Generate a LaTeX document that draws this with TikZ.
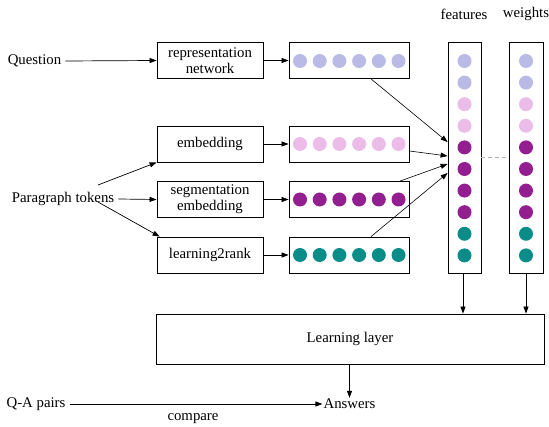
\documentclass[tikz,border=0pt]{standalone}
\usepackage{fontspec}
\setmainfont{Liberation Serif}
\usetikzlibrary{arrows.meta}
\definecolor{lav}{RGB}{186,186,230}
\definecolor{pnk}{RGB}{236,188,232}
\definecolor{prp}{RGB}{147,30,144}
\definecolor{tea}{RGB}{10,140,136}
\tikzset{
  box/.style={draw=black,line width=0.8pt,rectangle,inner sep=0pt,minimum width=106pt,minimum height=36pt,align=center,font=\fontsize{14.8}{16}\selectfont},
  dotbox/.style={draw=black,line width=0.8pt,rectangle,inner sep=0pt,minimum width=120pt,minimum height=36pt},
  col/.style={draw=black,line width=0.8pt,rectangle,inner sep=0pt,minimum width=33pt,minimum height=231pt},
  lbl/.style={inner sep=1pt,font=\fontsize{14.8}{16}\selectfont},
  arr/.style={-{Triangle[length=7pt,width=5pt]},line width=0.7pt},
  dot/.style={circle,fill=#1,inner sep=0pt,minimum size=14pt}
}
\begin{document}
\begin{tikzpicture}[x=1pt,y=-1pt]
\useasboundingbox (0,0) rectangle (549,427);
% text boxes
\node[box] (rep) at (210,60.5) {representation\\network};
\node[box] (emb) at (210,144) {embedding};
\node[box] (seg) at (210,199.5) {segmentation\\embedding};
\node[box] (l2r) at (210,255) {learning2rank};
% dot boxes
\node[dotbox] (d1) at (349,60.5) {};
\node[dotbox] (d2) at (349,144) {};
\node[dotbox] (d3) at (349,199.5) {};
\node[dotbox] (d4) at (349,255) {};
\foreach \i in {0,...,5}{
  \node[dot=lav] at (300+19.7*\i,61) {};
  \node[dot=pnk] at (300+19.7*\i,144) {};
  \node[dot=prp] at (300+19.7*\i,199.5) {};
  \node[dot=tea] at (300+19.7*\i,255) {};
}
% columns
\node[col] (feat) at (464.5,157.5) {};
\node[col,minimum width=34pt] (wt) at (526,157.5) {};
\foreach \c [count=\k from 0] in {lav,lav,pnk,pnk,prp,prp,prp,prp,tea,tea}{
  \node[dot=\c] at (464.5,61+21.6*\k) {};
  \node[dot=\c] at (526,61+21.6*\k) {};
}
\node[lbl] (flab) at (464,14) {features};
\node[lbl] (wlab) at (526,14) {weights};
\draw[gray!60,dashed,line width=1pt,dash pattern=on 4pt off 3pt] (feat.east |- 0,158) -- (wt.west |- 0,158);
% learning layer
\node[draw=black,line width=0.8pt,rectangle,inner sep=0pt,minimum width=388pt,minimum height=50pt,font=\fontsize{14.8}{16}\selectfont] (ll) at (350,339) {Learning layer};
% left labels
\node[lbl] (q) at (34.5,61) {Question};
\node[lbl] (pt) at (63,199) {Paragraph tokens};
\node[lbl] (qa) at (36,404) {Q-A pairs};
\node[lbl] (ans) at (349.5,404) {Answers};
\node[lbl] (cmp) at (193,419) {compare};
% arrows
\draw[arr] (q.east) ++(3,0) -- (rep.west);
\coordinate (p1) at (98,185);
\coordinate (p2) at (98,202);
\draw[arr] (p1) -- (emb.south west);
\draw[arr] (pt.east) ++(3,0) -- (seg.west);
\draw[arr] (p2) -- ([xshift=3pt]l2r.north west);
\draw[arr] (rep.east) -- (d1.west);
\draw[arr] (emb.east) -- (d2.west);
\draw[arr] (seg.east) -- (d3.west);
\draw[arr] (l2r.east) -- (d4.west);
\draw[arr,line width=0.6pt] ([xshift=22pt]d1.south) -- (feat.west |- 0,142);
\draw[arr,line width=0.6pt] (d2.east |- 0,151) -- (feat.west |- 0,156);
\draw[arr,line width=0.6pt] ([xshift=51pt]d3.north) -- (feat.west |- 0,164);
\draw[arr,line width=0.6pt] ([xshift=22pt]d4.north) -- (feat.west |- 0,173);
\draw[arr] ([xshift=-1.5pt]feat.south) -- ([xshift=-1.5pt]feat.south |- ll.north);
\draw[arr] (wt.south) -- (wt.south |- ll.north);
\draw[arr] (ll.south -| ans) -- (ans.north);
\draw[arr] (qa.east) ++(3,0) -- (ans.west);
\end{tikzpicture}
\end{document}
